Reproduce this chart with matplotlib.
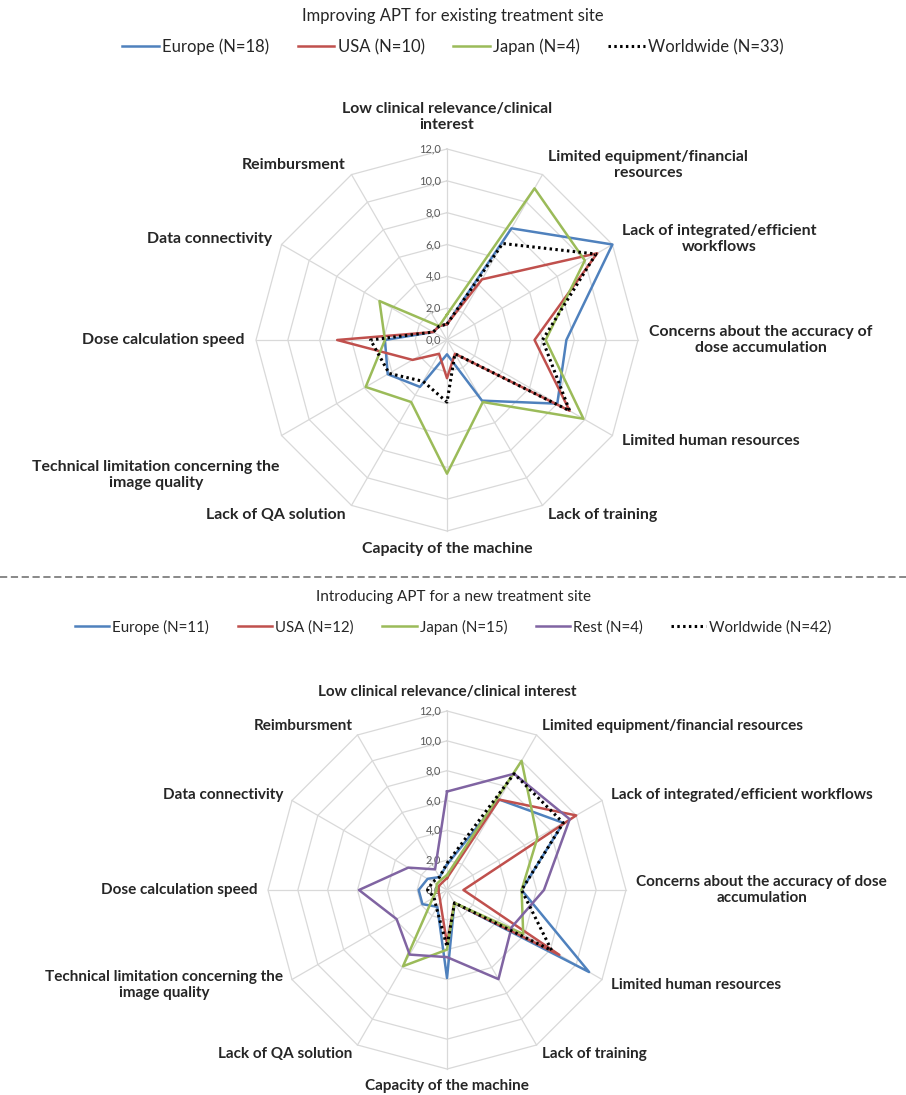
import numpy as np
import matplotlib
matplotlib.use("Agg")
import matplotlib.pyplot as plt
from matplotlib.lines import Line2D
from matplotlib.transforms import offset_copy

plt.rcParams['font.family'] = ['Lato', 'DejaVu Sans']

# ---------------- data ----------------
categories_top = [
    "Low clinical relevance/clinical\ninterest",
    "Limited equipment/financial\nresources",
    "Lack of integrated/efficient\nworkflows",
    "Concerns about the accuracy of\ndose accumulation",
    "Limited human resources",
    "Lack of training",
    "Capacity of the machine",
    "Lack of QA solution",
    "Technical limitation concerning the\nimage quality",
    "Dose calculation speed",
    "Data connectivity",
    "Reimbursment",
]
categories_bottom = [
    "Low clinical relevance/clinical interest",
    "Limited equipment/financial resources",
    "Lack of integrated/efficient workflows",
    "Concerns about the accuracy of dose\naccumulation",
    "Limited human resources",
    "Lack of training",
    "Capacity of the machine",
    "Lack of QA solution",
    "Technical limitation concerning the\nimage quality",
    "Dose calculation speed",
    "Data connectivity",
    "Reimbursment",
]
tick_values = [0, 2, 4, 6, 8, 10, 12]
tick_labels = ["0,0", "2,0", "4,0", "6,0", "8,0", "10,0", "12,0"]

title_top = "Improving APT for existing treatment site"
title_bottom = "Introducing APT for a new treatment site"

top_names = ["Europe (N=18)", "USA (N=10)", "Japan (N=4)", "Worldwide (N=33)"]
europe_top = [1.0, 8.1, 12.0, 7.5, 8.0, 4.4, 0.9, 3.4, 4.3, 3.9, 1.0, 1.0]
usa_top    = [1.0, 4.4, 10.9, 5.5, 8.9, 1.0, 2.4, 1.0, 2.5, 6.9, 1.0, 1.0]
japan_top  = [1.6, 11.0, 10.0, 6.2, 9.9, 4.5, 8.4, 4.5, 5.9, 3.9, 4.9, 1.0]
world_top  = [1.0, 7.0, 10.8, 6.0, 8.9, 1.0, 3.9, 3.0, 4.2, 4.8, 1.0, 1.0]

bottom_names = ["Europe (N=11)", "USA (N=12)", "Japan (N=15)", "Rest (N=4)", "Worldwide (N=42)"]
europe_bot = [1.7, 7.0, 9.0, 5.0, 11.0, 1.0, 5.9, 1.3, 1.9, 1.9, 1.5, 1.0]
usa_bot    = [0.8, 7.0, 10.0, 1.1, 8.7, 1.0, 3.6, 0.9, 0.6, 0.6, 0.6, 0.6]
japan_bot  = [1.0, 10.0, 7.0, 5.0, 5.9, 1.0, 4.0, 5.9, 1.1, 0.7, 0.8, 0.8]
rest_bot   = [6.6, 9.0, 9.5, 6.5, 5.0, 6.9, 4.5, 5.0, 3.9, 5.9, 3.0, 1.6]
world_bot  = [1.8, 9.0, 9.0, 5.0, 8.1, 1.0, 3.8, 1.4, 1.0, 1.3, 1.1, 1.0]

# ---------------- styles ----------------
C_BLUE = "#4F81BD"
C_RED = "#C0504D"
C_GREEN = "#9BBB59"
C_PURPLE = "#8064A2"
C_BLACK = "#000000"
GRID = "#D9D9D9"
TXT = "#262626"
DOTS = (0, (0.8, 1.1))

W, H = 906, 1095
fig = plt.figure(figsize=(W / 100, H / 100), dpi=100)


def radar(rect, cats, series, label_shift, lab_fs):
    ax = fig.add_axes(rect, projection="polar")
    ax.set_theta_zero_location("N")
    ax.set_theta_direction(-1)
    ax.set_ylim(0, 12)
    ax.set_xticks([])
    ax.set_yticks([])
    ax.grid(False)
    ax.spines["polar"].set_visible(False)
    ax.patch.set_alpha(0)
    n = len(cats)
    ang = np.linspace(0, 2 * np.pi, n, endpoint=False)
    ang_c = np.append(ang, ang[0])
    # polygon grid
    for v in tick_values[1:]:
        ax.plot(ang_c, [v] * (n + 1), color=GRID, lw=0.9, zorder=1, clip_on=False)
    for a in ang:
        ax.plot([a, a], [0, 12], color=GRID, lw=0.9, zorder=1, clip_on=False)
    # tick labels
    for v, t in zip(tick_values, tick_labels):
        tr = offset_copy(ax.transData, fig=fig, x=-6, y=0, units="dots")
        ax.text(0, v, t, transform=tr, ha="right", va="center", fontsize=8,
                color="#595959", zorder=2)
    # category labels
    for i, (a, c) in enumerate(zip(ang, cats)):
        deg = round(np.degrees(a)) % 360
        if deg == 0:
            ha, va = "center", "bottom"
        elif deg == 180:
            ha, va = "center", "top"
        elif deg < 180:
            ha, va = "left", "center"
        else:
            ha, va = "right", "center"
        dx, dy = label_shift.get(i, (0, 0))
        tr = offset_copy(ax.transData, fig=fig, x=dx, y=dy, units="dots")
        ax.text(a, 12.7, c, transform=tr, ha=ha, va=va, multialignment="center",
                fontsize=lab_fs, fontweight="bold", color=TXT, linespacing=1.2)
    handles = []
    for vals, col, ls, lw in series:
        ln, = ax.plot(ang_c, list(vals) + [vals[0]], color=col, linestyle=ls,
                      lw=lw, zorder=3, clip_on=False)
        handles.append(ln)
    return ax, handles


# top radar: center (447,340) px, radius 191 px
cx, cy, R = 447, 340, 191
rect_top = [(cx - R) / W, (H - cy - R) / H, 2 * R / W, 2 * R / H]
top_series = [
    (europe_top, C_BLUE, "-", 1.8),
    (usa_top, C_RED, "-", 1.8),
    (japan_top, C_GREEN, "-", 1.8),
    (world_top, C_BLACK, DOTS, 2.2),
]
ax1, h1 = radar(rect_top, categories_top, top_series, {0: (0, 6), 8: (8, -34)}, 11.4)

# bottom radar: center (447,890) px, radius 179 px
cx, cy, R = 447, 890, 179
rect_bot = [(cx - R) / W, (H - cy - R) / H, 2 * R / W, 2 * R / H]
bot_series = [
    (europe_bot, C_BLUE, "-", 1.8),
    (usa_bot, C_RED, "-", 1.8),
    (japan_bot, C_GREEN, "-", 1.8),
    (rest_bot, C_PURPLE, "-", 1.8),
    (world_bot, C_BLACK, DOTS, 2.2),
]
ax2, h2 = radar(rect_bot, categories_bottom, bot_series, {0: (0, 2)}, 11.0)

# titles
fig.text(0.5, 1 - 16 / H, title_top, ha="center", va="center", fontsize=12, color=TXT)
fig.text(0.5, 1 - 597 / H, title_bottom, ha="center", va="center", fontsize=11, color=TXT)

# legends
fig.legend(h1, top_names, loc="center", bbox_to_anchor=(0.5, 1 - 47 / H), ncol=4,
           frameon=False, fontsize=12, handlelength=2.2, handletextpad=0.2,
           columnspacing=1.7, labelcolor=TXT)
fig.legend(h2, bottom_names, loc="center", bbox_to_anchor=(0.5, 1 - 627 / H), ncol=5,
           frameon=False, fontsize=10.8, handlelength=2.3, handletextpad=0.2,
           columnspacing=1.9, labelcolor=TXT)

# dashed separator
fig.add_artist(Line2D([0, 1], [1 - 577 / H, 1 - 577 / H], transform=fig.transFigure,
                      color="#7F7F7F", lw=1.3, linestyle=(0, (4, 2))))

fig.savefig("out.png", dpi=100, facecolor="white")
